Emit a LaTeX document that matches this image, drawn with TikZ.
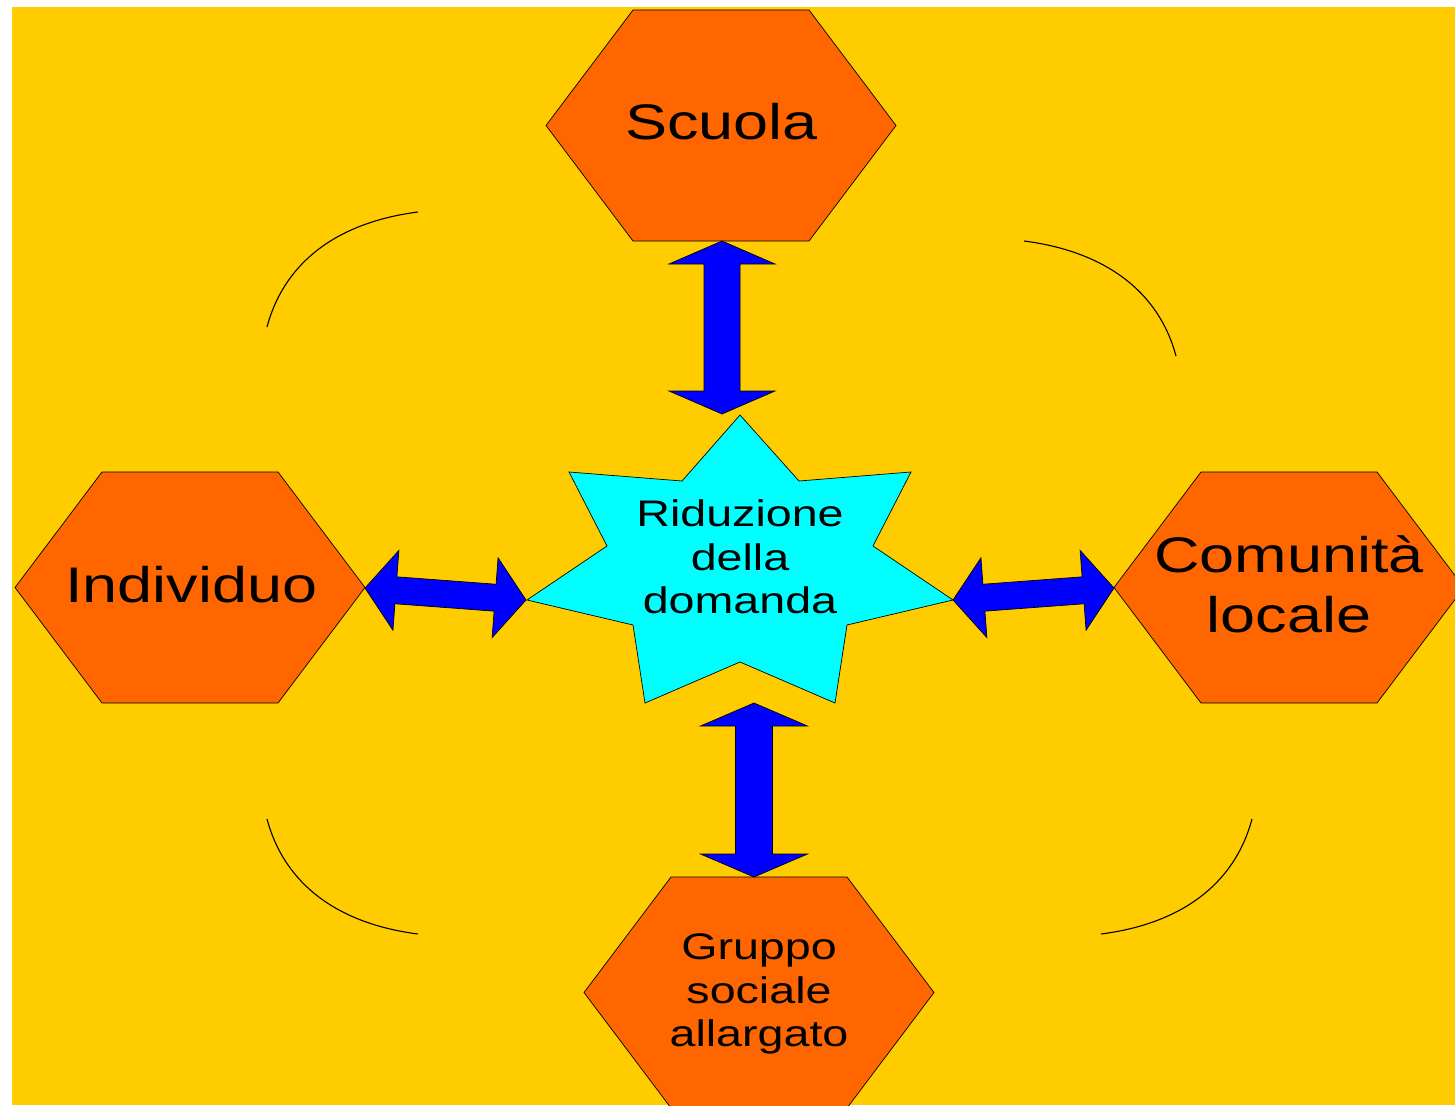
\documentclass[tikz,border=0pt]{standalone}
\usepackage{fontspec}
\setmainfont{Liberation Sans}[FakeStretch=1.26]
\usetikzlibrary{calc}
\definecolor{bgyellow}{HTML}{FFCC00}
\definecolor{hexorange}{HTML}{FF6600}
\definecolor{starcyan}{HTML}{00FFFF}
\definecolor{arrblue}{HTML}{0000FF}
\newcommand\hexat[2]{%
  \filldraw[hexst] (#1-175,#2) -- ++(87,-115.5) -- ++(176,0) -- ++(87,115.5)
    -- ++(-87,115.5) -- ++(-176,0) -- cycle;}
% #1 from, #2 to, #3 head length, #4 head half width, #5 shaft half width
\newcommand\dblarr[5]{%
  \filldraw[arrst] (#1)
    -- ($(#1)!#3!(#2)!#4!90:(#2)$) -- ($(#1)!#3!(#2)!#5!90:(#2)$)
    -- ($(#2)!#3!(#1)!#5!-90:(#1)$) -- ($(#2)!#3!(#1)!#4!-90:(#1)$)
    -- (#2)
    -- ($(#2)!#3!(#1)!#4!90:(#1)$) -- ($(#2)!#3!(#1)!#5!90:(#1)$)
    -- ($(#1)!#3!(#2)!#5!-90:(#2)$) -- ($(#1)!#3!(#2)!#4!-90:(#2)$)
    -- cycle;}
\begin{document}
\begin{tikzpicture}[x=1pt,y=-1pt,
  hexst/.style={fill=hexorange,draw=black,line width=0.7pt},
  arrst/.style={fill=arrblue,draw=black,line width=0.7pt,line join=miter},
  starst/.style={fill=starcyan,draw=black,line width=0.7pt},
  bigtxt/.style={inner sep=0pt,align=center,font=\fontsize{50}{60}\selectfont},
  smalltxt/.style={inner sep=0pt,align=center,font=\fontsize{37}{43.5}\selectfont},
  arcst/.style={draw=black,line width=1.1pt}]
\clip (0,0) rectangle (1455,1105);
\fill[white] (0,0) rectangle (1455,1105);
\fill[bgyellow] (12,7) rectangle (1455,1105);
% decorative arcs
\draw[arcst] (267,327) .. controls (285,260) and (340,222) .. (418,212);
\draw[arcst] (1024,241) .. controls (1102,251) and (1158,289) .. (1176,356);
\draw[arcst] (267,819) .. controls (285,886) and (340,924) .. (418,934);
\draw[arcst] (1252,819) .. controls (1234,886) and (1179,924) .. (1101,934);
% hexagons
\hexat{721}{125.5}
\hexat{190}{587.5}
\hexat{1289}{587.5}
\hexat{759}{992.5}
% star
\filldraw[starst] (740,415) -- (799,481) -- (911,472) -- (873,546) -- (953,600)
  -- (847,625) -- (835,703) -- (740,662) -- (645,703) -- (633,625) -- (527,600)
  -- (607,546) -- (569,472) -- (682,481) -- cycle;
% texts
\node[bigtxt] (scuola) at (721.5,122) {Scuola};
\node[bigtxt] (individuo) at (191.5,585) {Individuo};
\node[bigtxt] (comunita) at (1289,584) {Comunità\\locale};
\node[smalltxt] (riduzione) at (740,557) {Riduzione\\della\\domanda};
\node[smalltxt] (gruppo) at (759,994) {Gruppo\\sociale\\allargato};
% arrow end points on the shapes
\coordinate (sB) at (722,241);
\coordinate (rT) at (722,414);
\coordinate (rB) at (754,703);
\coordinate (gT) at (754,877);
\coordinate (iR) at (365,588);
\coordinate (rL) at (526,600);
\coordinate (rR) at (953,600);
\coordinate (cL) at (1114,588);
\dblarr{sB}{rT}{23pt}{53pt}{18pt}
\dblarr{rB}{gT}{23pt}{53.5pt}{18.5pt}
\dblarr{iR}{rL}{31pt}{40pt}{13.5pt}
\dblarr{rR}{cL}{31pt}{40pt}{13.5pt}
\end{tikzpicture}
\end{document}
